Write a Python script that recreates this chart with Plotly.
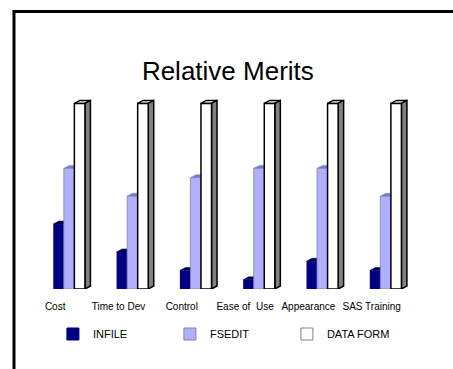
import plotly.graph_objects as go

# Ratings per criterion
categories = ["Cost", "Time to Dev", "Control", "Ease of\u00a0 Use", "Appearance", "SAS Training"]
infile = [7, 4, 2, 1, 3, 2]
fsedit = [13, 10, 12, 13, 13, 10]
data_form = [20, 20, 20, 20, 20, 20]

series = [
    ("INFILE", infile, "#000080", "#00004a", "#000080", 0),
    ("FSEDIT", fsedit, "#b0b0ff", "#7a7ac8", "#8080b0", 0.8),
    ("DATA FORM", data_form, "#ffffff", "#ffffff", "#000000", 1.5),
]

FONT = "Liberation Sans, Arial, sans-serif"
BAR_W = 1 / 6          # width of one bar in category units
GROUP_START = -0.25    # left edge of a group relative to its category
DEPTH_X = 0.087        # 3-D depth, x direction (category units)
DEPTH_Y = 0.32         # 3-D depth, y direction (value units)
SIDE_GREY = "#808080"

xs = list(range(len(categories)))
fig = go.Figure()
shapes = []

for k, (name, vals, fill, cap, line, lw) in enumerate(series):
    offset = GROUP_START + k * BAR_W
    fig.add_trace(go.Bar(
        x=xs, y=vals, name=name, width=BAR_W, offset=offset,
        marker=dict(color=fill, line=dict(color=line, width=lw)),
        showlegend=False, hoverinfo="skip",
    ))
    edge = "#000000" if name == "DATA FORM" else cap
    ew = 1.5 if name == "DATA FORM" else 0.5
    for i, v in zip(xs, vals):
        x0 = i + offset
        x1 = x0 + BAR_W
        # top face
        shapes.append(dict(
            type="path", xref="x", yref="y", layer="below",
            path=(f"M{x0},{v} L{x1},{v} L{x1 + DEPTH_X},{v + DEPTH_Y} "
                  f"L{x0 + DEPTH_X},{v + DEPTH_Y} Z"),
            fillcolor=cap, line=dict(color=edge, width=ew),
        ))
        # right side face
        shapes.append(dict(
            type="path", xref="x", yref="y", layer="below",
            path=(f"M{x1},0 L{x1 + DEPTH_X},{DEPTH_Y} L{x1 + DEPTH_X},{v + DEPTH_Y} "
                  f"L{x1},{v} Z"),
            fillcolor=SIDE_GREY if name == "DATA FORM" else cap,
            line=dict(color=edge, width=ew),
        ))

# legend entries
legend_style = [
    ("INFILE", "#000080", "#000080", 1),
    ("FSEDIT", "#b0b0ff", "#8080a0", 1),
    ("DATA FORM", "#ffffff", "#808080", 1),
]
for name, fill, line, lw in legend_style:
    fig.add_trace(go.Bar(
        x=[None], y=[None], name=name,
        marker=dict(color=fill, line=dict(color=line, width=lw)),
        hoverinfo="skip",
    ))

# outer frame
shapes.append(dict(
    type="rect", xref="paper", yref="paper",
    x0=-0.0118, x1=1.2, y0=-0.6, y1=1.196,
    line=dict(color="black", width=3), fillcolor="rgba(0,0,0,0)", layer="above",
))

L, R, T, B = 19, 10, 57, 80
px_per_cat = 63.3
first_center = 69.1
x_lo = -(first_center - L) / px_per_cat
x_hi = x_lo + (453 - L - R) / px_per_cat

fig.update_layout(
    width=453, height=369,
    margin=dict(l=L, r=R, t=T, b=B),
    paper_bgcolor="white", plot_bgcolor="rgba(0,0,0,0)",
    barmode="overlay",
    shapes=shapes,
    font=dict(family=FONT, color="black"),
    title=dict(text="Relative Merits", x=0.503, xref="container", xanchor="center",
               y=0.807, yref="container", yanchor="middle",
               font=dict(size=26, family=FONT, color="black")),
    xaxis=dict(range=[x_lo, x_hi], showgrid=False, zeroline=False, showline=False,
               tickmode="array", tickvals=[i - 0.22 for i in xs], ticktext=categories,
               ticks="", ticklabelstandoff=10,
               tickfont=dict(size=10, family=FONT, color="black"),
               fixedrange=True),
    yaxis=dict(range=[0, 25], showgrid=False, zeroline=False, showline=False,
               showticklabels=False, ticks="", fixedrange=True),
    legend=dict(orientation="h", x=0.08, xanchor="left", y=-0.194, yanchor="middle",
                entrywidth=72, entrywidthmode="pixels",
                font=dict(size=11, family=FONT, color="black"),
                bgcolor="rgba(0,0,0,0)", traceorder="normal"),
    showlegend=True,
)

fig.write_html("out.html")
